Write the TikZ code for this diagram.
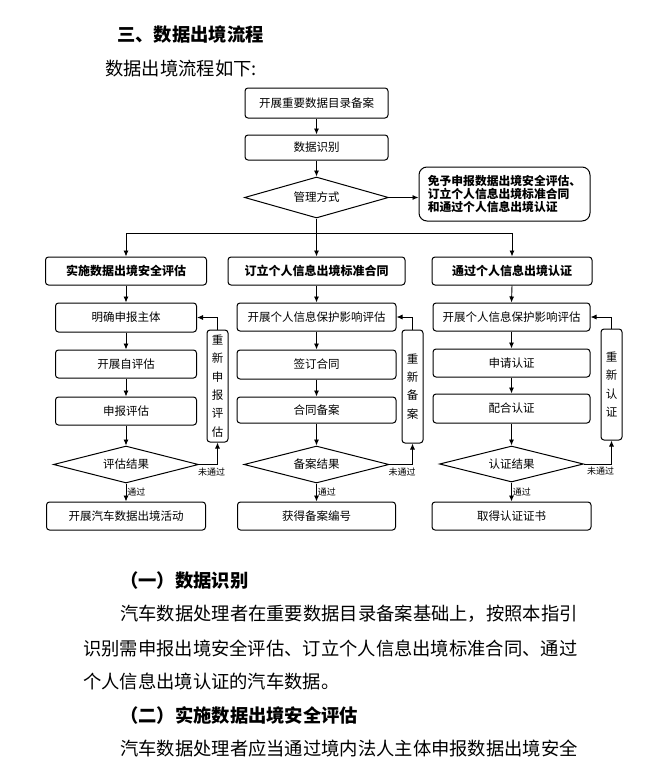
\documentclass[tikz,border=0pt]{standalone}
\usepackage{fontspec}
\setmainfont{Noto Sans CJK SC}
\usetikzlibrary{arrows.meta,shapes.geometric}

\tikzset{
  >={Latex[length=6pt,width=5pt]},
  flowbox/.style={draw, line width=1pt, rounded corners=3pt, inner sep=0pt,
    minimum height=28pt, font=\fontsize{11.5}{13}\selectfont},
  headbox/.style={flowbox, font=\bfseries\fontsize{12}{14}\selectfont},
  redobox/.style={flowbox, minimum width=21pt, align=center,
    font=\fontsize{11.5}{18.3}\selectfont},
  decide/.style={diamond, draw, line width=1pt, inner sep=0pt, aspect=4,
    font=\fontsize{11.5}{13}\selectfont},
  conn/.style={line width=0.9pt},
  passlbl/.style={inner sep=1pt, font=\fontsize{9}{10}\selectfont},
  para/.style={anchor=west, inner sep=0pt, font=\fontsize{18.3}{22}\selectfont},
  parahead/.style={para, font=\bfseries\fontsize{18.3}{22}\selectfont}
}

\begin{document}
\begin{tikzpicture}[x=1pt,y=-1pt]
\useasboundingbox (0,0) rectangle (669,768);

% page text above the chart
\node[parahead] (title) at (117,35) {三、数据出境流程};
\node[para] (intro) at (105,69) {数据出境流程如下:};

% top of the chart
\node[flowbox, minimum width=143pt, minimum height=30pt] (rec) at (316.5,103) {开展重要数据目录备案};
\node[flowbox, minimum width=143pt, minimum height=25pt] (ident) at (316.5,147.5) {数据识别};
\node[decide, minimum width=144pt, minimum height=41pt] (manage) at (316.5,197.5) {管理方式};
\node[flowbox, rounded corners=8pt, minimum width=171pt, minimum height=54pt, align=left,
  font=\bfseries\fontsize{11.8}{13}\selectfont] (exempt) at (504.5,194)
  {免予申报数据出境安全评估、\\订立个人信息出境标准合同\\和通过个人信息出境认证};
\draw[conn,->] (rec.south) -- (ident.north);
\draw[conn,->] (ident.south) -- (manage.north);
\draw[conn,->] (manage.east) -- (manage.east -| exempt.west);

% three ways
\node[headbox, minimum width=161pt] (hdrA) at (126,271) {实施数据出境安全评估};
\node[headbox, minimum width=177pt] (hdrB) at (316.5,271) {订立个人信息出境标准合同};
\node[headbox, minimum width=160pt] (hdrC) at (512,271) {通过个人信息出境认证};
\coordinate (split) at (316.5,233);
\draw[conn,->] (manage.south) -- (hdrB.north);
\draw[conn,->] (split) -| (hdrA.north);
\draw[conn,->] (split) -| (hdrC.north);

% security assessment
\node[flowbox, minimum width=141pt, minimum height=29pt] (a1) at (126,317.5) {明确申报主体};
\node[flowbox, minimum width=141pt] (a2) at (126,364) {开展自评估};
\node[flowbox, minimum width=141pt] (a3) at (126,411) {申报评估};
\node[decide, minimum width=145pt, minimum height=37pt] (aRes) at (126,464.5) {评估结果};
\node[flowbox, minimum width=159pt] (aEnd) at (126,516) {开展汽车数据出境活动};
\node[redobox, minimum height=112pt] (aRedo) at (217.5,386) {重\\新\\申\\报\\评\\估};
\draw[conn,->] (hdrA.south) -- (a1.north);
\draw[conn,->] (a1.south) -- (a2.north);
\draw[conn,->] (a2.south) -- (a3.north);
\draw[conn,->] (a3.south) -- (aRes.north);
\draw[conn,->] (aRes.south) -- node[passlbl, right] (aPass) {通过} (aEnd.north);
\draw[conn,->] (aRes.east) -| (aRedo.south);
\draw[conn,->] (aRedo.north) |- (a1.east);
\node[passlbl, anchor=north west] (aFail) at ([xshift=-2pt,yshift=-2pt]aRes.east) {未通过};

% standard contract
\node[flowbox, minimum width=159pt] (b1) at (316.5,317) {开展个人信息保护影响评估};
\node[flowbox, minimum width=159pt, minimum height=29pt] (b2) at (316.5,364.5) {签订合同};
\node[flowbox, minimum width=159pt, minimum height=26pt] (b3) at (316.5,410) {合同备案};
\node[decide, minimum width=145pt, minimum height=37pt] (bRes) at (316.5,464.5) {备案结果};
\node[flowbox, minimum width=158pt] (bEnd) at (316.5,516) {获得备案编号};
\node[redobox, minimum height=113pt] (bRedo) at (412.5,386.5) {重\\新\\备\\案};
\draw[conn,->] (hdrB.south) -- (b1.north);
\draw[conn,->] (b1.south) -- (b2.north);
\draw[conn,->] (b2.south) -- (b3.north);
\draw[conn,->] (b3.south) -- (bRes.north);
\draw[conn,->] (bRes.south) -- node[passlbl, right] (bPass) {通过} (bEnd.north);
\draw[conn,->] (bRes.east) -| (bRedo.south);
\draw[conn,->] (bRedo.north) |- (b1.east);
\node[passlbl, anchor=north west] (bFail) at ([xshift=-2pt,yshift=-2pt]bRes.east) {未通过};

% certification
\node[flowbox, minimum width=157pt] (c1) at (511.5,317) {开展个人信息保护影响评估};
\node[flowbox, minimum width=157pt] (c2) at (511.5,363) {申请认证};
\node[flowbox, minimum width=157pt, minimum height=29pt] (c3) at (511.5,408.5) {配合认证};
\node[decide, minimum width=144pt, minimum height=36pt] (cRes) at (511.5,464) {认证结果};
\node[flowbox, minimum width=159pt] (cEnd) at (511.5,516) {取得认证证书};
\node[redobox, minimum height=111pt] (cRedo) at (611.5,384.5) {重\\新\\认\\证};
\draw[conn,->] (hdrC.south) -- (c1.north);
\draw[conn,->] (c1.south) -- (c2.north);
\draw[conn,->] (c2.south) -- (c3.north);
\draw[conn,->] (c3.south) -- (cRes.north);
\draw[conn,->] (cRes.south) -- node[passlbl, right] (cPass) {通过} (cEnd.north);
\draw[conn,->] (cRes.east) -| (cRedo.south);
\draw[conn,->] (cRedo.north) |- (c1.east);
\node[passlbl, anchor=north west] (cFail) at ([xshift=2pt,yshift=-2pt]cRes.east) {未通过};

% page text below the chart
\node[parahead] (sec1) at (120,581) {（一）数据识别};
\node[para] (p1a) at (120,614) {汽车数据处理者在重要数据目录备案基础上，按照本指引};
\node[para] (p1b) at (83,648) {识别需申报出境安全评估、订立个人信息出境标准合同、通过};
\node[para] (p1c) at (83,681) {个人信息出境认证的汽车数据。};
\node[parahead] (sec2) at (120,715) {（二）实施数据出境安全评估};
\node[para] (p2a) at (120,748) {汽车数据处理者应当通过境内法人主体申报数据出境安全};
\end{tikzpicture}
\end{document}
